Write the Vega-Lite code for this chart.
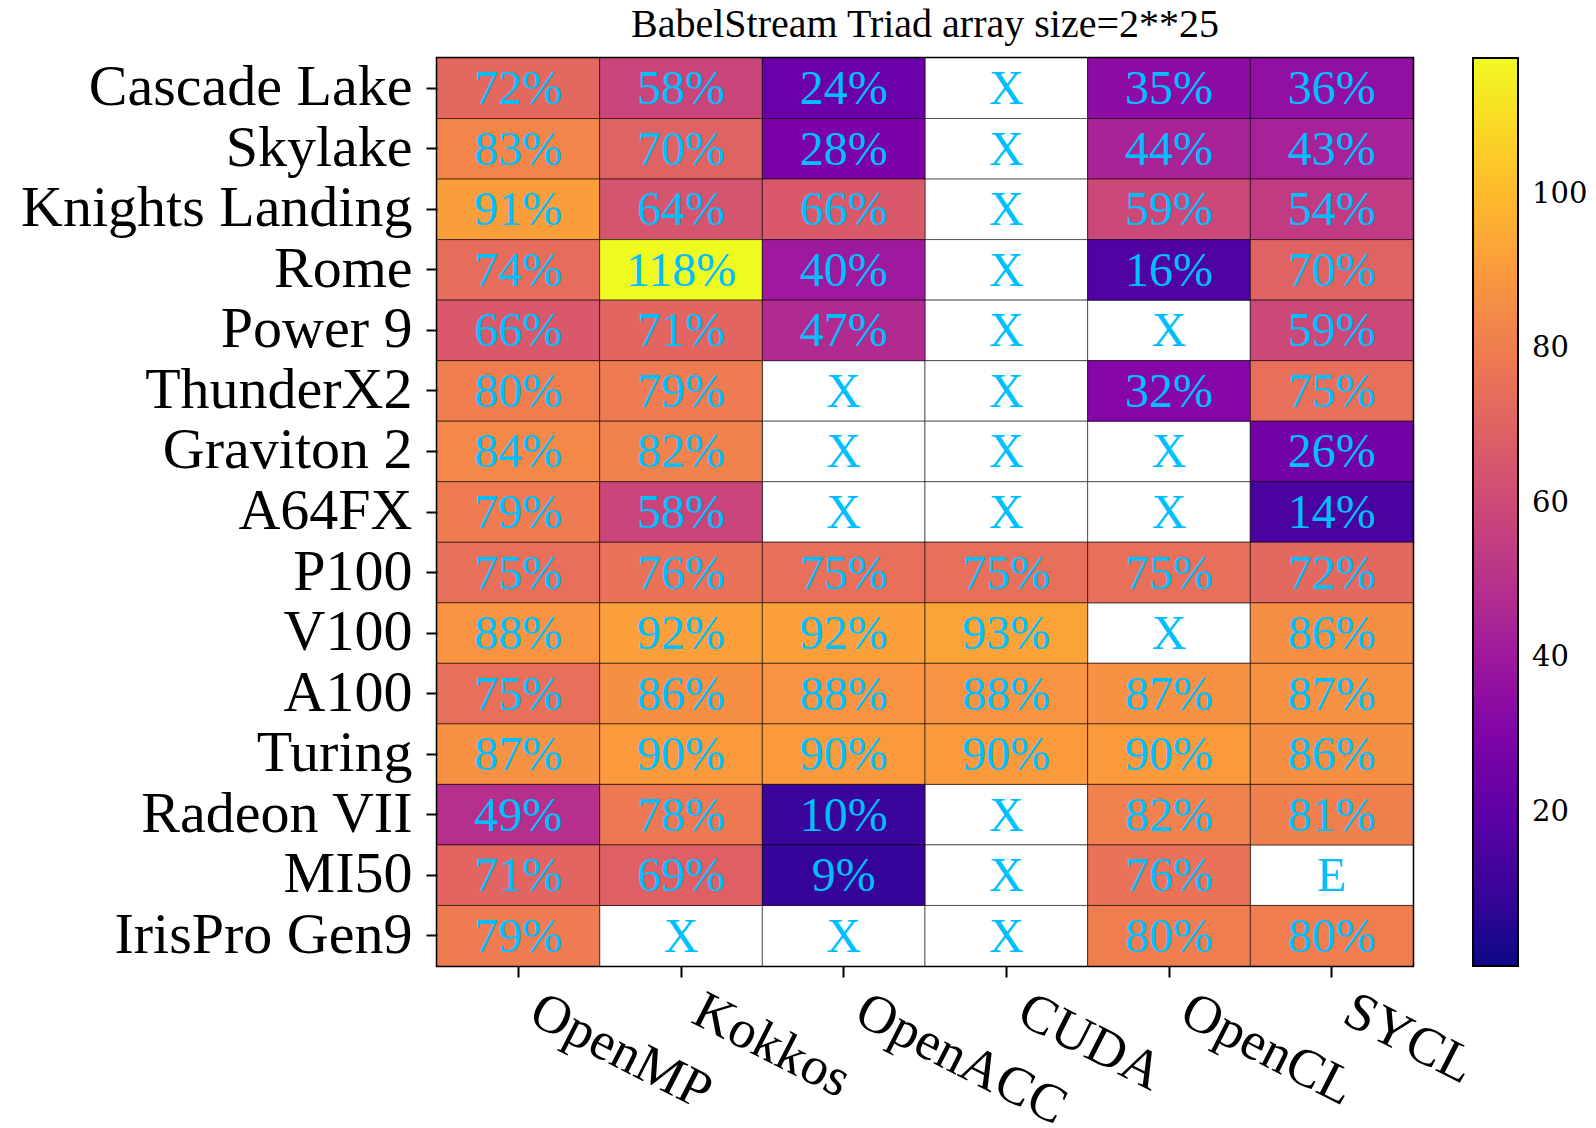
{
  "$schema": "https://vega.github.io/schema/vega-lite/v6.json",
  "autosize": {"type": "none"},
  "padding": {"left": 437, "top": 58, "right": 183, "bottom": 162},
  "width": 976,
  "height": 908,
  "background": "white",
  "title": {
    "text": "BabelStream Triad array size=2**25",
    "font": "Liberation Serif",
    "fontSize": 40,
    "fontWeight": "normal",
    "color": "black",
    "anchor": "middle",
    "frame": "group",
    "offset": 13
  },
  "config": {
    "view": {"stroke": "black", "strokeWidth": 2.5},
    "axis": {"grid": false, "domain": false, "tickColor": "black", "tickWidth": 2, "tickSize": 11, "labelColor": "black", "title": null}
  },
  "data": {
    "values": [
      {"platform": "Cascade Lake", "model": "OpenMP", "v": 72, "label": "72%"},
      {"platform": "Cascade Lake", "model": "Kokkos", "v": 58, "label": "58%"},
      {"platform": "Cascade Lake", "model": "OpenACC", "v": 24, "label": "24%"},
      {"platform": "Cascade Lake", "model": "CUDA", "v": null, "label": "X"},
      {"platform": "Cascade Lake", "model": "OpenCL", "v": 35, "label": "35%"},
      {"platform": "Cascade Lake", "model": "SYCL", "v": 36, "label": "36%"},
      {"platform": "Skylake", "model": "OpenMP", "v": 83, "label": "83%"},
      {"platform": "Skylake", "model": "Kokkos", "v": 70, "label": "70%"},
      {"platform": "Skylake", "model": "OpenACC", "v": 28, "label": "28%"},
      {"platform": "Skylake", "model": "CUDA", "v": null, "label": "X"},
      {"platform": "Skylake", "model": "OpenCL", "v": 44, "label": "44%"},
      {"platform": "Skylake", "model": "SYCL", "v": 43, "label": "43%"},
      {"platform": "Knights Landing", "model": "OpenMP", "v": 91, "label": "91%"},
      {"platform": "Knights Landing", "model": "Kokkos", "v": 64, "label": "64%"},
      {"platform": "Knights Landing", "model": "OpenACC", "v": 66, "label": "66%"},
      {"platform": "Knights Landing", "model": "CUDA", "v": null, "label": "X"},
      {"platform": "Knights Landing", "model": "OpenCL", "v": 59, "label": "59%"},
      {"platform": "Knights Landing", "model": "SYCL", "v": 54, "label": "54%"},
      {"platform": "Rome", "model": "OpenMP", "v": 74, "label": "74%"},
      {"platform": "Rome", "model": "Kokkos", "v": 118, "label": "118%"},
      {"platform": "Rome", "model": "OpenACC", "v": 40, "label": "40%"},
      {"platform": "Rome", "model": "CUDA", "v": null, "label": "X"},
      {"platform": "Rome", "model": "OpenCL", "v": 16, "label": "16%"},
      {"platform": "Rome", "model": "SYCL", "v": 70, "label": "70%"},
      {"platform": "Power 9", "model": "OpenMP", "v": 66, "label": "66%"},
      {"platform": "Power 9", "model": "Kokkos", "v": 71, "label": "71%"},
      {"platform": "Power 9", "model": "OpenACC", "v": 47, "label": "47%"},
      {"platform": "Power 9", "model": "CUDA", "v": null, "label": "X"},
      {"platform": "Power 9", "model": "OpenCL", "v": null, "label": "X"},
      {"platform": "Power 9", "model": "SYCL", "v": 59, "label": "59%"},
      {"platform": "ThunderX2", "model": "OpenMP", "v": 80, "label": "80%"},
      {"platform": "ThunderX2", "model": "Kokkos", "v": 79, "label": "79%"},
      {"platform": "ThunderX2", "model": "OpenACC", "v": null, "label": "X"},
      {"platform": "ThunderX2", "model": "CUDA", "v": null, "label": "X"},
      {"platform": "ThunderX2", "model": "OpenCL", "v": 32, "label": "32%"},
      {"platform": "ThunderX2", "model": "SYCL", "v": 75, "label": "75%"},
      {"platform": "Graviton 2", "model": "OpenMP", "v": 84, "label": "84%"},
      {"platform": "Graviton 2", "model": "Kokkos", "v": 82, "label": "82%"},
      {"platform": "Graviton 2", "model": "OpenACC", "v": null, "label": "X"},
      {"platform": "Graviton 2", "model": "CUDA", "v": null, "label": "X"},
      {"platform": "Graviton 2", "model": "OpenCL", "v": null, "label": "X"},
      {"platform": "Graviton 2", "model": "SYCL", "v": 26, "label": "26%"},
      {"platform": "A64FX", "model": "OpenMP", "v": 79, "label": "79%"},
      {"platform": "A64FX", "model": "Kokkos", "v": 58, "label": "58%"},
      {"platform": "A64FX", "model": "OpenACC", "v": null, "label": "X"},
      {"platform": "A64FX", "model": "CUDA", "v": null, "label": "X"},
      {"platform": "A64FX", "model": "OpenCL", "v": null, "label": "X"},
      {"platform": "A64FX", "model": "SYCL", "v": 14, "label": "14%"},
      {"platform": "P100", "model": "OpenMP", "v": 75, "label": "75%"},
      {"platform": "P100", "model": "Kokkos", "v": 76, "label": "76%"},
      {"platform": "P100", "model": "OpenACC", "v": 75, "label": "75%"},
      {"platform": "P100", "model": "CUDA", "v": 75, "label": "75%"},
      {"platform": "P100", "model": "OpenCL", "v": 75, "label": "75%"},
      {"platform": "P100", "model": "SYCL", "v": 72, "label": "72%"},
      {"platform": "V100", "model": "OpenMP", "v": 88, "label": "88%"},
      {"platform": "V100", "model": "Kokkos", "v": 92, "label": "92%"},
      {"platform": "V100", "model": "OpenACC", "v": 92, "label": "92%"},
      {"platform": "V100", "model": "CUDA", "v": 93, "label": "93%"},
      {"platform": "V100", "model": "OpenCL", "v": null, "label": "X"},
      {"platform": "V100", "model": "SYCL", "v": 86, "label": "86%"},
      {"platform": "A100", "model": "OpenMP", "v": 75, "label": "75%"},
      {"platform": "A100", "model": "Kokkos", "v": 86, "label": "86%"},
      {"platform": "A100", "model": "OpenACC", "v": 88, "label": "88%"},
      {"platform": "A100", "model": "CUDA", "v": 88, "label": "88%"},
      {"platform": "A100", "model": "OpenCL", "v": 87, "label": "87%"},
      {"platform": "A100", "model": "SYCL", "v": 87, "label": "87%"},
      {"platform": "Turing", "model": "OpenMP", "v": 87, "label": "87%"},
      {"platform": "Turing", "model": "Kokkos", "v": 90, "label": "90%"},
      {"platform": "Turing", "model": "OpenACC", "v": 90, "label": "90%"},
      {"platform": "Turing", "model": "CUDA", "v": 90, "label": "90%"},
      {"platform": "Turing", "model": "OpenCL", "v": 90, "label": "90%"},
      {"platform": "Turing", "model": "SYCL", "v": 86, "label": "86%"},
      {"platform": "Radeon VII", "model": "OpenMP", "v": 49, "label": "49%"},
      {"platform": "Radeon VII", "model": "Kokkos", "v": 78, "label": "78%"},
      {"platform": "Radeon VII", "model": "OpenACC", "v": 10, "label": "10%"},
      {"platform": "Radeon VII", "model": "CUDA", "v": null, "label": "X"},
      {"platform": "Radeon VII", "model": "OpenCL", "v": 82, "label": "82%"},
      {"platform": "Radeon VII", "model": "SYCL", "v": 81, "label": "81%"},
      {"platform": "MI50", "model": "OpenMP", "v": 71, "label": "71%"},
      {"platform": "MI50", "model": "Kokkos", "v": 69, "label": "69%"},
      {"platform": "MI50", "model": "OpenACC", "v": 9, "label": "9%"},
      {"platform": "MI50", "model": "CUDA", "v": null, "label": "X"},
      {"platform": "MI50", "model": "OpenCL", "v": 76, "label": "76%"},
      {"platform": "MI50", "model": "SYCL", "v": null, "label": "E"},
      {"platform": "IrisPro Gen9", "model": "OpenMP", "v": 79, "label": "79%"},
      {"platform": "IrisPro Gen9", "model": "Kokkos", "v": null, "label": "X"},
      {"platform": "IrisPro Gen9", "model": "OpenACC", "v": null, "label": "X"},
      {"platform": "IrisPro Gen9", "model": "CUDA", "v": null, "label": "X"},
      {"platform": "IrisPro Gen9", "model": "OpenCL", "v": 80, "label": "80%"},
      {"platform": "IrisPro Gen9", "model": "SYCL", "v": 80, "label": "80%"}
    ]
  },
  "encoding": {
    "x": {
      "field": "model", "type": "nominal", "sort": null,
      "scale": {"domain": ["OpenMP", "Kokkos", "OpenACC", "CUDA", "OpenCL", "SYCL"], "paddingInner": 0, "paddingOuter": 0},
      "axis": {"orient": "bottom", "labelAngle": 27, "labelAlign": "left", "labelBaseline": "top", "labelFont": "Liberation Serif", "labelFontSize": 54, "labelPadding": 6, "labelOffset": 28, "labelOverlap": false, "labelLimit": 0}
    },
    "y": {
      "field": "platform", "type": "nominal", "sort": null,
      "scale": {"domain": ["Cascade Lake", "Skylake", "Knights Landing", "Rome", "Power 9", "ThunderX2", "Graviton 2", "A64FX", "P100", "V100", "A100", "Turing", "Radeon VII", "MI50", "IrisPro Gen9"], "paddingInner": 0, "paddingOuter": 0},
      "axis": {"orient": "left", "labelFont": "Liberation Serif", "labelFontSize": 58, "labelPadding": 14, "labelOverlap": false, "labelLimit": 0, "labelBaseline": "middle"}
    }
  },
  "layer": [
    {
      "mark": {"type": "rect", "fill": "white", "stroke": "black", "strokeWidth": 0.8, "strokeOpacity": 0.7}
    },
    {
      "transform": [{"filter": "datum.v != null"}],
      "mark": {"type": "rect", "stroke": "black", "strokeWidth": 0.8, "strokeOpacity": 0.7},
      "encoding": {
        "color": {
          "field": "v", "type": "quantitative",
          "scale": {"scheme": "plasma", "domain": [0, 117.6]},
          "legend": {
            "title": null, "orient": "right", "offset": 60, "padding": 0,
            "direction": "vertical",
            "gradientLength": 908, "gradientThickness": 45,
            "gradientStrokeColor": "black", "gradientStrokeWidth": 2,
            "values": [20, 40, 60, 80, 100],
            "labelFont": "DejaVu Serif", "labelFontSize": 29, "labelColor": "black",
            "labelOffset": 14, "labelOverlap": false
          }
        }
      }
    },
    {
      "mark": {"type": "text", "font": "Liberation Serif", "fontSize": 48, "color": "#00BFFF", "align": "center", "baseline": "middle", "dy": 2},
      "encoding": {"text": {"field": "label", "type": "nominal"}}
    }
  ]
}
